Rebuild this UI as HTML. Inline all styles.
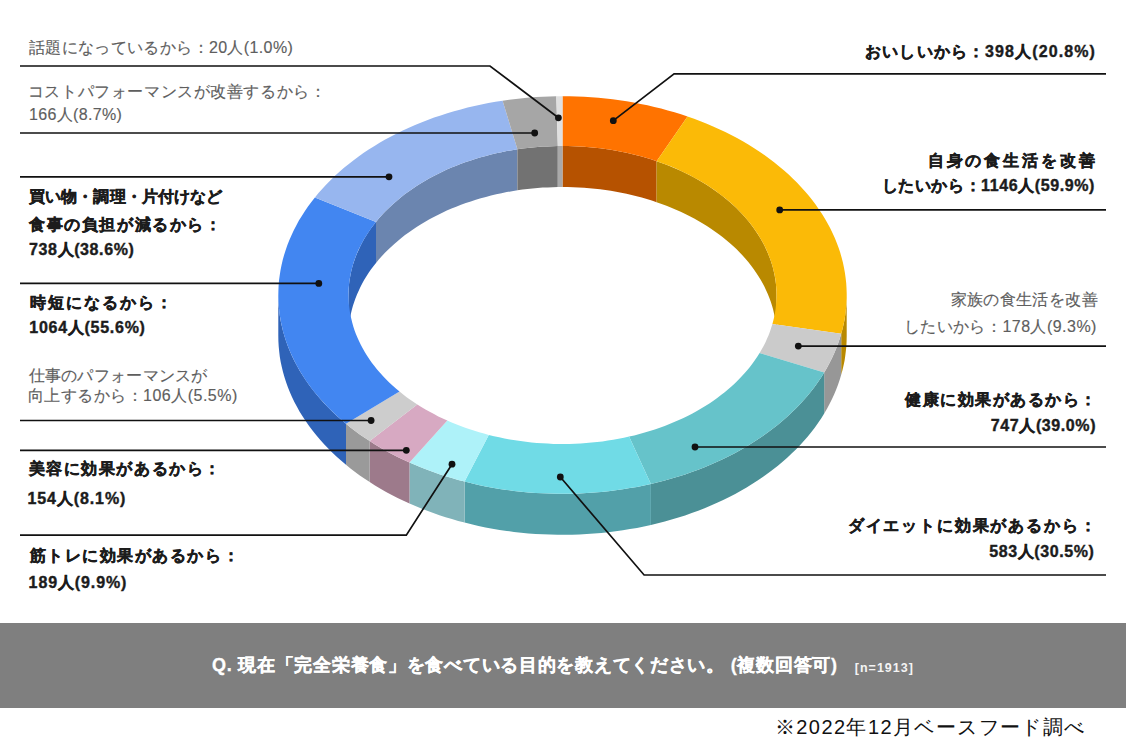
<!DOCTYPE html>
<html lang="ja"><head><meta charset="utf-8">
<style>
html,body{margin:0;padding:0;background:#fff;}
body{width:1126px;height:755px;position:relative;overflow:hidden;font-family:"Liberation Sans",sans-serif;}
svg{position:absolute;left:0;top:0;}
.t{position:absolute;white-space:nowrap;line-height:1;}
.g{color:#5e5e5e;-webkit-text-stroke:0.15px #5e5e5e;}
.b{font-weight:bold;color:#1c1c1c;-webkit-text-stroke:0.4px #1c1c1c;}
.q{font-weight:bold;color:#fff;-webkit-text-stroke:0.3px #fff;}
.n{font-weight:bold;color:#f4f4f4;}
.f{color:#111;}
.band{position:absolute;left:0;top:623px;width:1126px;height:85px;background:#7f7f7f;}

</style></head><body>
<svg width="1126" height="755" viewBox="0 0 1126 755">
<path d="M562.5,146.0L567.9,146.0L573.3,146.2L578.7,146.4L584.1,146.8L589.5,147.2L594.9,147.7L600.2,148.3L605.5,149.0L610.8,149.8L616.1,150.7L621.3,151.7L626.5,152.8L631.6,154.0L636.7,155.3L641.8,156.6L646.8,158.0L651.8,159.6L656.6,161.2L656.6,202.2L651.8,200.6L646.8,199.0L641.8,197.6L636.7,196.3L631.6,195.0L626.5,193.8L621.3,192.7L616.1,191.7L610.8,190.8L605.5,190.0L600.2,189.3L594.9,188.7L589.5,188.2L584.1,187.8L578.7,187.4L573.3,187.2L567.9,187.0L562.5,187.0Z" fill="#B65200"/>
<path d="M656.6,161.2L661.6,162.9L666.5,164.8L671.3,166.7L676.0,168.7L680.7,170.8L685.3,173.0L689.8,175.2L694.2,177.6L698.5,180.0L702.8,182.5L706.9,185.1L711.0,187.7L714.9,190.4L718.8,193.2L722.5,196.1L726.1,199.0L729.7,202.0L733.1,205.0L736.4,208.1L739.5,211.3L742.6,214.5L745.5,217.8L748.3,221.1L751.0,224.5L753.6,227.9L756.0,231.4L758.3,234.9L760.5,238.5L762.5,242.1L764.5,245.7L766.2,249.4L767.8,253.1L769.3,256.8L770.7,260.5L771.9,264.3L773.0,268.1L773.9,271.9L774.7,275.7L775.3,279.6L775.9,283.4L776.2,287.3L776.4,291.1L776.5,295.0L776.5,336.0L776.4,332.1L776.2,328.3L775.9,324.4L775.3,320.6L774.7,316.7L773.9,312.9L773.0,309.1L771.9,305.3L770.7,301.5L769.3,297.8L767.8,294.1L766.2,290.4L764.5,286.7L762.5,283.1L760.5,279.5L758.3,275.9L756.0,272.4L753.6,268.9L751.0,265.5L748.3,262.1L745.5,258.8L742.6,255.5L739.5,252.3L736.4,249.1L733.1,246.0L729.7,243.0L726.1,240.0L722.5,237.1L718.8,234.2L714.9,231.4L711.0,228.7L706.9,226.1L702.8,223.5L698.5,221.0L694.2,218.6L689.8,216.2L685.3,214.0L680.7,211.8L676.0,209.7L671.3,207.7L666.5,205.8L661.6,203.9L656.6,202.2Z" fill="#B98900"/>
<path d="M348.5,295.0L348.6,291.2L348.8,287.4L349.1,283.5L349.6,279.7L350.3,275.9L351.0,272.2L351.9,268.4L353.0,264.6L354.2,260.9L355.5,257.2L357.0,253.5L358.6,249.9L360.3,246.2L362.2,242.6L364.1,239.1L366.3,235.6L368.5,232.1L370.9,228.6L373.4,225.2L376.0,221.9L376.0,262.9L373.4,266.2L370.9,269.6L368.5,273.1L366.3,276.6L364.1,280.1L362.2,283.6L360.3,287.2L358.6,290.9L357.0,294.5L355.5,298.2L354.2,301.9L353.0,305.6L351.9,309.4L351.0,313.2L350.3,316.9L349.6,320.7L349.1,324.5L348.8,328.4L348.6,332.2L348.5,336.0Z" fill="#2F63B8"/>
<path d="M376.0,221.9L378.8,218.6L381.7,215.3L384.7,212.1L387.8,209.0L391.0,205.9L394.3,202.9L397.8,199.9L401.3,197.0L405.0,194.1L408.7,191.4L412.6,188.7L416.6,186.0L420.6,183.5L424.8,181.0L429.0,178.5L433.3,176.2L437.8,173.9L442.3,171.7L446.8,169.6L451.5,167.6L456.2,165.7L461.0,163.8L465.8,162.1L470.8,160.4L475.8,158.8L480.8,157.3L485.9,155.9L491.0,154.6L496.2,153.3L501.5,152.2L506.7,151.1L512.0,150.2L517.4,149.3L517.4,190.3L512.0,191.2L506.7,192.1L501.5,193.2L496.2,194.3L491.0,195.6L485.9,196.9L480.8,198.3L475.8,199.8L470.8,201.4L465.8,203.1L461.0,204.8L456.2,206.7L451.5,208.6L446.8,210.6L442.3,212.7L437.8,214.9L433.3,217.2L429.0,219.5L424.8,222.0L420.6,224.5L416.6,227.0L412.6,229.7L408.7,232.4L405.0,235.1L401.3,238.0L397.8,240.9L394.3,243.9L391.0,246.9L387.8,250.0L384.7,253.1L381.7,256.3L378.8,259.6L376.0,262.9Z" fill="#6B85AF"/>
<path d="M517.4,149.3L522.4,148.6L527.4,148.0L532.4,147.5L537.5,147.0L542.6,146.6L547.6,146.4L552.7,146.2L557.8,146.0L557.8,187.0L552.7,187.2L547.6,187.4L542.6,187.6L537.5,188.0L532.4,188.5L527.4,189.0L522.4,189.6L517.4,190.3Z" fill="#727272"/>
<path d="M557.8,146.0L562.5,146.0L562.5,187.0L557.8,187.0Z" fill="#A9A9A9"/>
<path d="M846.7,295.0L846.6,299.9L846.4,304.8L845.9,309.6L845.3,314.5L844.6,319.4L843.6,324.2L842.5,329.0L841.2,333.8L841.2,374.8L842.5,370.0L843.6,365.2L844.6,360.4L845.3,355.5L845.9,350.6L846.4,345.8L846.6,340.9L846.7,336.0Z" fill="#B98900"/>
<path d="M841.2,333.8L839.7,338.8L838.0,343.7L836.2,348.6L834.1,353.4L831.9,358.3L829.5,363.0L827.0,367.8L824.2,372.5L824.2,413.5L827.0,408.8L829.5,404.0L831.9,399.3L834.1,394.4L836.2,389.6L838.0,384.7L839.7,379.8L841.2,374.8Z" fill="#979797"/>
<path d="M824.2,372.5L821.3,377.2L818.2,381.8L814.9,386.4L811.4,391.0L807.8,395.4L804.0,399.8L800.0,404.2L795.9,408.4L791.6,412.6L787.2,416.7L782.6,420.8L777.9,424.7L773.0,428.6L768.0,432.3L762.8,436.0L757.6,439.6L752.1,443.1L746.6,446.4L740.9,449.7L735.2,452.9L729.3,456.0L723.2,458.9L717.1,461.8L710.9,464.5L704.6,467.2L698.2,469.7L691.7,472.1L685.1,474.4L678.4,476.5L671.6,478.6L664.8,480.5L657.9,482.3L650.9,483.9L650.9,524.9L657.9,523.3L664.8,521.5L671.6,519.6L678.4,517.5L685.1,515.4L691.7,513.1L698.2,510.7L704.6,508.2L710.9,505.5L717.1,502.8L723.2,499.9L729.3,497.0L735.2,493.9L740.9,490.7L746.6,487.4L752.1,484.1L757.6,480.6L762.8,477.0L768.0,473.3L773.0,469.6L777.9,465.7L782.6,461.8L787.2,457.7L791.6,453.6L795.9,449.4L800.0,445.2L804.0,440.8L807.8,436.4L811.4,432.0L814.9,427.4L818.2,422.8L821.3,418.2L824.2,413.5Z" fill="#4B9096"/>
<path d="M650.9,483.9L644.0,485.5L637.0,486.9L629.9,488.1L622.8,489.3L615.6,490.3L608.4,491.2L601.2,491.9L594.0,492.6L586.7,493.1L579.4,493.4L572.1,493.7L564.8,493.8L557.5,493.8L550.2,493.6L542.9,493.3L535.7,492.9L528.4,492.4L521.2,491.7L514.0,490.9L506.8,489.9L499.6,488.9L492.5,487.7L485.5,486.4L478.5,484.9L471.5,483.3L464.6,481.6L464.6,522.6L471.5,524.3L478.5,525.9L485.5,527.4L492.5,528.7L499.6,529.9L506.8,530.9L514.0,531.9L521.2,532.7L528.4,533.4L535.7,533.9L542.9,534.3L550.2,534.6L557.5,534.8L564.8,534.8L572.1,534.7L579.4,534.4L586.7,534.1L594.0,533.6L601.2,532.9L608.4,532.2L615.6,531.3L622.8,530.3L629.9,529.1L637.0,527.9L644.0,526.5L650.9,524.9Z" fill="#52A0A9"/>
<path d="M464.6,481.6L458.2,479.9L451.9,478.1L445.6,476.2L439.4,474.2L433.3,472.1L427.2,469.8L421.3,467.5L415.4,465.1L409.5,462.6L409.5,503.6L415.4,506.1L421.3,508.5L427.2,510.8L433.3,513.1L439.4,515.2L445.6,517.2L451.9,519.1L458.2,520.9L464.6,522.6Z" fill="#80B3B9"/>
<path d="M409.5,462.6L403.5,459.8L397.6,456.9L391.8,453.9L386.1,450.9L380.5,447.7L375.0,444.4L369.7,441.0L369.7,482.0L375.0,485.4L380.5,488.7L386.1,491.9L391.8,494.9L397.6,497.9L403.5,500.8L409.5,503.6Z" fill="#9D7A8B"/>
<path d="M369.7,441.0L364.7,437.7L359.8,434.4L355.1,430.9L350.5,427.4L346.0,423.8L346.0,464.8L350.5,468.4L355.1,471.9L359.8,475.4L364.7,478.7L369.7,482.0Z" fill="#9A9A9A"/>
<path d="M346.0,423.8L341.3,419.8L336.7,415.7L332.2,411.5L328.0,407.3L323.9,403.0L319.9,398.6L316.1,394.1L312.5,389.6L309.1,385.0L305.8,380.3L302.7,375.6L299.8,370.9L297.1,366.0L294.5,361.2L292.1,356.2L289.9,351.3L287.9,346.3L286.1,341.3L284.5,336.2L283.0,331.1L281.8,326.0L280.7,320.9L279.8,315.7L279.2,310.5L278.7,305.4L278.4,300.2L278.3,295.0L278.3,336.0L278.4,341.2L278.7,346.4L279.2,351.5L279.8,356.7L280.7,361.9L281.8,367.0L283.0,372.1L284.5,377.2L286.1,382.3L287.9,387.3L289.9,392.3L292.1,397.2L294.5,402.2L297.1,407.0L299.8,411.9L302.7,416.6L305.8,421.3L309.1,426.0L312.5,430.6L316.1,435.1L319.9,439.6L323.9,444.0L328.0,448.3L332.2,452.5L336.7,456.7L341.3,460.8L346.0,464.8Z" fill="#2F63B8"/>
<path d="M562.5,96.2L569.7,96.3L576.9,96.5L584.1,96.8L591.2,97.2L598.4,97.8L605.5,98.5L612.6,99.3L619.6,100.3L626.7,101.3L633.7,102.5L640.6,103.9L647.5,105.3L654.3,106.9L661.1,108.5L667.8,110.4L674.5,112.3L681.0,114.3L687.5,116.5L656.6,161.2L651.8,159.6L646.8,158.0L641.8,156.6L636.7,155.3L631.6,154.0L626.5,152.8L621.3,151.7L616.1,150.7L610.8,149.8L605.5,149.0L600.2,148.3L594.9,147.7L589.5,147.2L584.1,146.8L578.7,146.4L573.3,146.2L567.9,146.0L562.5,146.0Z" fill="#FF7300"/>
<path d="M687.5,116.5L694.1,118.8L700.5,121.2L706.8,123.7L713.1,126.4L719.2,129.2L725.3,132.0L731.2,135.0L737.0,138.1L742.8,141.3L748.3,144.6L753.8,148.0L759.2,151.5L764.4,155.1L769.4,158.7L774.4,162.5L779.2,166.4L783.8,170.3L788.4,174.3L792.7,178.4L796.9,182.6L801.0,186.9L804.9,191.2L808.6,195.6L812.2,200.0L815.6,204.6L818.8,209.2L821.9,213.8L824.8,218.5L827.5,223.2L830.1,228.0L832.5,232.9L834.7,237.7L836.7,242.7L838.5,247.6L840.2,252.6L841.6,257.6L842.9,262.6L844.0,267.7L844.9,272.8L845.6,277.8L846.2,282.9L846.5,288.1L846.7,293.2L846.7,298.3L846.4,303.4L846.0,308.5L845.5,313.6L844.7,318.7L843.7,323.7L842.6,328.8L841.2,333.8L772.4,324.1L773.4,320.3L774.3,316.5L775.0,312.7L775.6,308.9L776.0,305.1L776.3,301.3L776.5,297.5L776.5,293.6L776.4,289.8L776.1,286.0L775.7,282.1L775.2,278.3L774.5,274.5L773.6,270.7L772.7,267.0L771.6,263.2L770.3,259.5L768.9,255.8L767.4,252.1L765.8,248.4L764.0,244.8L762.1,241.2L760.0,237.7L757.8,234.1L755.5,230.7L753.1,227.2L750.5,223.8L747.8,220.5L745.0,217.2L742.1,214.0L739.0,210.8L735.9,207.6L732.6,204.6L729.2,201.5L725.7,198.6L722.0,195.7L718.3,192.9L714.5,190.1L710.6,187.4L706.6,184.8L702.4,182.3L698.2,179.8L693.9,177.4L689.5,175.1L685.1,172.9L680.5,170.7L675.9,168.6L671.2,166.6L666.4,164.7L661.6,162.9L656.6,161.2Z" fill="#FBBA07"/>
<path d="M841.2,333.8L839.7,338.8L838.0,343.7L836.2,348.6L834.1,353.4L831.9,358.3L829.5,363.0L827.0,367.8L824.2,372.5L759.6,353.1L761.6,349.5L763.6,346.0L765.4,342.4L767.0,338.8L768.6,335.2L770.0,331.5L771.2,327.8L772.4,324.1Z" fill="#CBCBCB"/>
<path d="M824.2,372.5L821.3,377.2L818.2,381.8L814.9,386.4L811.4,391.0L807.8,395.4L804.0,399.8L800.0,404.2L795.9,408.4L791.6,412.6L787.2,416.7L782.6,420.8L777.9,424.7L773.0,428.6L768.0,432.3L762.8,436.0L757.6,439.6L752.1,443.1L746.6,446.4L740.9,449.7L735.2,452.9L729.3,456.0L723.2,458.9L717.1,461.8L710.9,464.5L704.6,467.2L698.2,469.7L691.7,472.1L685.1,474.4L678.4,476.5L671.6,478.6L664.8,480.5L657.9,482.3L650.9,483.9L629.1,436.6L634.3,435.4L639.5,434.0L644.7,432.6L649.8,431.1L654.8,429.4L659.8,427.7L664.7,425.9L669.5,424.0L674.2,422.1L678.9,420.0L683.5,417.9L688.1,415.7L692.5,413.4L696.9,411.0L701.1,408.5L705.3,406.0L709.4,403.4L713.4,400.7L717.2,397.9L721.0,395.1L724.7,392.2L728.2,389.3L731.7,386.2L735.0,383.2L738.2,380.0L741.3,376.8L744.3,373.6L747.2,370.3L749.9,366.9L752.5,363.5L755.0,360.1L757.4,356.6L759.6,353.1Z" fill="#66C3CA"/>
<path d="M650.9,483.9L644.0,485.5L637.0,486.9L629.9,488.1L622.8,489.3L615.6,490.3L608.4,491.2L601.2,491.9L594.0,492.6L586.7,493.1L579.4,493.4L572.1,493.7L564.8,493.8L557.5,493.8L550.2,493.6L542.9,493.3L535.7,492.9L528.4,492.4L521.2,491.7L514.0,490.9L506.8,489.9L499.6,488.9L492.5,487.7L485.5,486.4L478.5,484.9L471.5,483.3L464.6,481.6L488.8,434.9L494.0,436.2L499.2,437.3L504.5,438.4L509.8,439.4L515.2,440.3L520.5,441.1L525.9,441.8L531.4,442.4L536.8,442.9L542.3,443.3L547.8,443.6L553.3,443.9L558.8,444.0L564.2,444.0L569.7,443.9L575.2,443.7L580.7,443.5L586.2,443.1L591.6,442.6L597.1,442.0L602.5,441.4L607.9,440.6L613.2,439.8L618.6,438.8L623.9,437.7L629.1,436.6Z" fill="#70DBE6"/>
<path d="M464.6,481.6L458.2,479.9L451.9,478.1L445.6,476.2L439.4,474.2L433.3,472.1L427.2,469.8L421.3,467.5L415.4,465.1L409.5,462.6L447.3,420.6L451.7,422.5L456.1,424.3L460.6,426.0L465.2,427.7L469.8,429.3L474.5,430.8L479.2,432.3L484.0,433.6L488.8,434.9Z" fill="#AEF2F9"/>
<path d="M409.5,462.6L403.5,459.8L397.6,456.9L391.8,453.9L386.1,450.9L380.5,447.7L375.0,444.4L369.7,441.0L417.3,404.5L421.3,407.0L425.5,409.4L429.7,411.8L434.0,414.1L438.3,416.4L442.8,418.5L447.3,420.6Z" fill="#D7A9C2"/>
<path d="M369.7,441.0L364.7,437.7L359.8,434.4L355.1,430.9L350.5,427.4L346.0,423.8L399.5,391.5L402.9,394.2L406.3,396.9L409.9,399.5L413.6,402.0L417.3,404.5Z" fill="#CDCDCD"/>
<path d="M346.0,423.8L341.3,419.8L336.7,415.8L332.3,411.6L328.1,407.4L324.0,403.1L320.1,398.8L316.3,394.3L312.7,389.9L309.3,385.3L306.0,380.7L303.0,376.0L300.0,371.3L297.3,366.5L294.8,361.7L292.4,356.8L290.2,351.9L288.2,346.9L286.3,341.9L284.7,336.9L283.2,331.9L282.0,326.8L280.9,321.7L280.0,316.6L279.3,311.5L278.8,306.3L278.4,301.2L278.3,296.0L278.4,290.9L278.6,285.7L279.0,280.6L279.7,275.5L280.5,270.3L281.5,265.2L282.7,260.1L284.1,255.1L285.7,250.1L287.4,245.1L289.4,240.1L291.5,235.2L293.8,230.3L296.3,225.4L298.9,220.6L301.8,215.9L304.8,211.2L308.0,206.5L311.4,201.9L314.9,197.4L376.0,221.9L373.4,225.3L370.9,228.7L368.5,232.2L366.2,235.7L364.0,239.3L362.0,242.9L360.2,246.5L358.4,250.1L356.8,253.8L355.4,257.6L354.0,261.3L352.9,265.1L351.8,268.9L350.9,272.7L350.2,276.5L349.5,280.3L349.1,284.2L348.7,288.0L348.5,291.9L348.5,295.8L348.6,299.6L348.8,303.5L349.2,307.3L349.8,311.2L350.4,315.0L351.3,318.8L352.2,322.6L353.3,326.4L354.5,330.2L355.9,333.9L357.4,337.6L359.1,341.3L360.9,345.0L362.8,348.6L364.9,352.2L367.1,355.7L369.4,359.2L371.8,362.7L374.4,366.1L377.1,369.5L380.0,372.8L382.9,376.0L386.0,379.3L389.2,382.4L392.5,385.5L395.9,388.5L399.5,391.5Z" fill="#4286F1"/>
<path d="M314.9,197.4L318.5,193.0L322.4,188.7L326.3,184.4L330.5,180.2L334.7,176.1L339.2,172.1L343.7,168.1L348.5,164.2L353.3,160.4L358.3,156.7L363.4,153.1L368.7,149.6L374.1,146.2L379.6,142.8L385.2,139.6L391.0,136.5L396.8,133.5L402.8,130.6L408.9,127.7L415.1,125.0L421.3,122.5L427.7,120.0L434.1,117.6L440.7,115.4L447.3,113.3L454.0,111.3L460.8,109.4L467.6,107.6L474.5,106.0L481.4,104.5L488.4,103.1L495.5,101.8L502.6,100.7L517.4,149.3L512.0,150.2L506.7,151.1L501.5,152.2L496.2,153.3L491.0,154.6L485.9,155.9L480.8,157.3L475.8,158.8L470.8,160.4L465.8,162.1L461.0,163.8L456.2,165.7L451.5,167.6L446.8,169.6L442.3,171.7L437.8,173.9L433.3,176.2L429.0,178.5L424.8,181.0L420.6,183.5L416.6,186.0L412.6,188.7L408.7,191.4L405.0,194.1L401.3,197.0L397.8,199.9L394.3,202.9L391.0,205.9L387.8,209.0L384.7,212.1L381.7,215.3L378.8,218.6L376.0,221.9Z" fill="#97B6EF"/>
<path d="M502.6,100.7L509.2,99.7L515.9,98.9L522.6,98.2L529.3,97.6L536.0,97.1L542.8,96.7L549.5,96.4L556.3,96.2L557.8,146.0L552.7,146.2L547.6,146.4L542.6,146.6L537.5,147.0L532.4,147.5L527.4,148.0L522.4,148.6L517.4,149.3Z" fill="#A6A6A6"/>
<path d="M556.3,96.2L562.5,96.2L562.5,146.0L557.8,146.0Z" fill="#E0E0E0"/>
<polyline points="20,66 490,66 558.4,117.8" fill="none" stroke="#111" stroke-width="1.7"/>
<circle cx="558.4" cy="117.8" r="3.4" fill="#111"/>
<polyline points="20,133 534.7,133" fill="none" stroke="#111" stroke-width="1.7"/>
<circle cx="534.7" cy="133" r="3.4" fill="#111"/>
<polyline points="20,176.8 389,176.8" fill="none" stroke="#111" stroke-width="1.7"/>
<circle cx="389" cy="176.8" r="3.4" fill="#111"/>
<polyline points="20,283.4 318.8,283.4" fill="none" stroke="#111" stroke-width="1.7"/>
<circle cx="318.8" cy="283.4" r="3.4" fill="#111"/>
<polyline points="20,420.5 371.1,420.5" fill="none" stroke="#111" stroke-width="1.7"/>
<circle cx="371.1" cy="420.5" r="3.4" fill="#111"/>
<polyline points="20,450.3 406.3,450.3" fill="none" stroke="#111" stroke-width="1.7"/>
<circle cx="406.3" cy="450.3" r="3.4" fill="#111"/>
<polyline points="20,535.1 406.3,535.1 452,464.2" fill="none" stroke="#111" stroke-width="1.7"/>
<circle cx="452" cy="464.2" r="3.4" fill="#111"/>
<polyline points="1106,73.9 674.1,73.9 613.3,120.7" fill="none" stroke="#111" stroke-width="1.7"/>
<circle cx="613.3" cy="120.7" r="3.4" fill="#111"/>
<polyline points="1106,209.9 779.7,209.9" fill="none" stroke="#111" stroke-width="1.7"/>
<circle cx="779.7" cy="209.9" r="3.4" fill="#111"/>
<polyline points="1106,346.1 798.3,346.1" fill="none" stroke="#111" stroke-width="1.7"/>
<circle cx="798.3" cy="346.1" r="3.4" fill="#111"/>
<polyline points="1106,447 695,447" fill="none" stroke="#111" stroke-width="1.7"/>
<circle cx="695" cy="447" r="3.4" fill="#111"/>
<polyline points="1106,575 644.1,575 560.3,477" fill="none" stroke="#111" stroke-width="1.7"/>
<circle cx="560.3" cy="477" r="3.4" fill="#111"/>
</svg>
<div class="band"></div>
<div id="L1" class="t g" style="left:28.90px;top:40.10px;font-size:16.00px;letter-spacing:0.368px">話題になっているから：20人(1.0%)</div>
<div id="L2a" class="t g" style="left:27.80px;top:83.70px;font-size:16.00px;letter-spacing:0.588px">コストパフォーマンスが改善するから：</div>
<div id="L2b" class="t g" style="left:29.00px;top:107.40px;font-size:16.00px;letter-spacing:0.333px">166人(8.7%)</div>
<div id="L3a" class="t b" style="left:29.10px;top:188.80px;font-size:16.00px;letter-spacing:0.091px">買い物・調理・片付けなど</div>
<div id="L3b" class="t b" style="left:29.10px;top:216.70px;font-size:16.00px;letter-spacing:1.600px">食事の負担が減るから：</div>
<div id="L3c" class="t b" style="left:29.10px;top:241.50px;font-size:16.00px;letter-spacing:0.600px">738人(38.6%)</div>
<div id="L4a" class="t b" style="left:30.30px;top:295.00px;font-size:16.00px;letter-spacing:2.000px">時短になるから：</div>
<div id="L4b" class="t b" style="left:29.30px;top:319.90px;font-size:16.00px;letter-spacing:0.727px">1064人(55.6%)</div>
<div id="L5a" class="t g" style="left:28.50px;top:367.50px;font-size:16.00px;letter-spacing:0.300px">仕事のパフォーマンスが</div>
<div id="L5b" class="t g" style="left:27.50px;top:388.20px;font-size:16.00px;letter-spacing:0.500px">向上するから：106人(5.5%)</div>
<div id="L6a" class="t b" style="left:28.50px;top:460.60px;font-size:16.00px;letter-spacing:1.600px">美容に効果があるから：</div>
<div id="L6b" class="t b" style="left:27.50px;top:491.10px;font-size:16.00px;letter-spacing:0.889px">154人(8.1%)</div>
<div id="L7a" class="t b" style="left:29.60px;top:548.00px;font-size:16.00px;letter-spacing:1.545px">筋トレに効果があるから：</div>
<div id="L7b" class="t b" style="left:28.60px;top:574.70px;font-size:16.00px;letter-spacing:0.889px">189人(9.9%)</div>
<div id="R1" class="t b" style="left:865.20px;top:44.00px;font-size:16.00px;letter-spacing:1.118px">おいしいから：398人(20.8%)</div>
<div id="R2a" class="t b" style="left:927.70px;top:152.90px;font-size:16.00px;letter-spacing:2.875px">自身の食生活を改善</div>
<div id="R2b" class="t b" style="left:881.60px;top:178.40px;font-size:16.00px;letter-spacing:0.588px">したいから：1146人(59.9%)</div>
<div id="R3a" class="t g" style="left:950.60px;top:291.70px;font-size:16.00px;letter-spacing:0.375px">家族の食生活を改善</div>
<div id="R3b" class="t g" style="left:903.60px;top:318.80px;font-size:16.00px;letter-spacing:0.467px">したいから：178人(9.3%)</div>
<div id="R4a" class="t b" style="left:905.30px;top:391.80px;font-size:16.00px;letter-spacing:1.500px">健康に効果があるから：</div>
<div id="R4b" class="t b" style="left:990.80px;top:417.50px;font-size:16.00px;letter-spacing:0.600px">747人(39.0%)</div>
<div id="R5a" class="t b" style="left:847.70px;top:518.40px;font-size:16.00px;letter-spacing:1.846px">ダイエットに効果があるから：</div>
<div id="R5b" class="t b" style="left:989.20px;top:544.30px;font-size:16.00px;letter-spacing:0.600px">583人(30.5%)</div>
<div id="Q" class="t q" style="left:212.00px;top:655.60px;font-size:18.00px;letter-spacing:0.722px">Q. 現在「完全栄養食」を食べている目的を教えてください。 (複数回答可)</div>
<div id="N" class="t n" style="left:854.80px;top:661.60px;font-size:12.50px;letter-spacing:1.000px">[n=1913]</div>
<div id="F" class="t f" style="left:774.90px;top:716.90px;font-size:20.00px;letter-spacing:1.419px">※2022年12月ベースフード調べ</div>
</body></html>
